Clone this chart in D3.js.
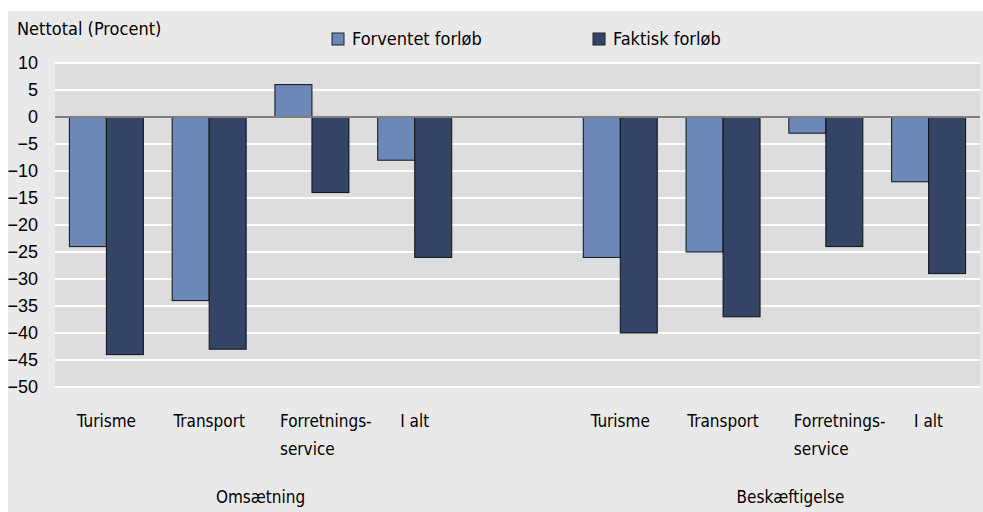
<!DOCTYPE html>
<html>
<head>
<meta charset="utf-8">
<script src="https://cdn.jsdelivr.net/npm/d3@7"></script>
<style>
  body { margin: 0; background: #ffffff; }
  svg text { font-family: "Liberation Sans Narrow", "DejaVu Sans Condensed", sans-serif; fill: #000; }
</style>
</head>
<body>
<div id="chart"></div>
<script>
// categories (slot "" is the empty gap between the two groups)
var categories = ["Turisme", "Transport", "Forretnings-\nservice", "I alt", "", "Turisme", "Transport", "Forretnings-\nservice", "I alt"];
var groups = ["Omsætning", "Beskæftigelse"];
var seriesNames = ["Forventet forløb", "Faktisk forløb"];
var forventet = [-24, -34, 6, -8, null, -26, -25, -3, -12];
var faktisk = [-44, -43, -14, -26, null, -40, -37, -24, -29];
var yTicks = [10, 5, 0, -5, -10, -15, -20, -25, -30, -35, -40, -45, -50];

var colors = ["#6b88b8", "#334466"];

var width = 983, height = 512;
var margin = { top: 63, right: 3, bottom: 125, left: 55 };
var chartWidth = width - margin.left - margin.right;
var chartHeight = height - margin.top - margin.bottom;

var svg = d3.select("#chart").append("svg")
  .attr("width", width)
  .attr("height", height);

// outer chart background
svg.append("rect")
  .attr("x", 8).attr("y", 11)
  .attr("width", width - 8).attr("height", height - 11)
  .attr("fill", "#e9e9e9");

var chartGroup = svg.append("g")
  .attr("transform", `translate(${margin.left}, ${margin.top})`);

var xScale = d3.scaleBand()
  .domain(d3.range(categories.length))
  .range([0, chartWidth])
  .paddingInner(0)
  .paddingOuter(0);

var xInner = d3.scaleBand()
  .domain([0, 1])
  .range([xScale.bandwidth() * 0.14, xScale.bandwidth() * 0.86]);

var yScale = d3.scaleLinear()
  .domain([-50, 10])
  .range([chartHeight, 0]);

// plot area
chartGroup.append("rect")
  .attr("width", chartWidth)
  .attr("height", chartHeight)
  .attr("fill", "#dddddd");

// gridlines
chartGroup.append("g")
  .selectAll("line")
  .data(yTicks.filter(d => d !== 0))
  .enter()
  .append("line")
  .attr("x1", 0).attr("x2", chartWidth)
  .attr("y1", d => yScale(d)).attr("y2", d => yScale(d))
  .attr("stroke", "#ffffff")
  .attr("stroke-width", 2);

// y axis labels
var yAxis = d3.axisLeft(yScale).tickValues(yTicks).tickSize(0).tickPadding(17);
var yAxisG = chartGroup.append("g").call(yAxis);
yAxisG.select(".domain").remove();
yAxisG.selectAll("text")
  .style("font-size", "18px")
  .style("font-family", "'Liberation Sans Narrow', sans-serif");

// bars
var rows = categories.map((c, i) => ({ i: i, vals: [forventet[i], faktisk[i]] }))
  .filter(d => d.vals[0] !== null);

var barGroups = chartGroup.selectAll(".cat")
  .data(rows)
  .enter()
  .append("g")
  .attr("transform", d => `translate(${xScale(d.i)},0)`);

barGroups.selectAll("rect")
  .data(d => d.vals.map((v, k) => ({ v: v, k: k })))
  .enter()
  .append("rect")
  .attr("x", d => xInner(d.k))
  .attr("y", d => yScale(Math.max(0, d.v)))
  .attr("width", xInner.bandwidth())
  .attr("height", d => Math.abs(yScale(d.v) - yScale(0)))
  .attr("fill", d => colors[d.k])
  .attr("stroke", "#111111")
  .attr("stroke-width", 1);

// zero line
chartGroup.append("line")
  .attr("x1", 0).attr("x2", chartWidth)
  .attr("y1", yScale(0)).attr("y2", yScale(0))
  .attr("stroke", "#7f7f7f")
  .attr("stroke-width", 2);

// category labels
var labelG = chartGroup.append("g");
categories.forEach(function(c, i) {
  if (!c) return;
  var cx = xScale(i) + xScale.bandwidth() / 2;
  var lines = c.split("\n");
  var t = labelG.append("text")
    .attr("y", chartHeight + 40)
    .style("font-size", "17px");
  if (lines.length > 1) {
    t.attr("text-anchor", "start");
    lines.forEach(function(l, j) {
      t.append("tspan")
        .attr("x", cx - 32)
        .attr("dy", j === 0 ? 0 : 28)
        .text(l);
    });
  } else {
    t.attr("text-anchor", "middle").attr("x", cx).text(c);
  }
});

// group labels
groups.forEach(function(g, gi) {
  var start = gi * 5, end = gi * 5 + 3;
  var cx = (xScale(start) + xScale(end) + xScale.bandwidth()) / 2;
  labelG.append("text")
    .attr("x", cx + gi * 16)
    .attr("y", chartHeight + 116)
    .attr("text-anchor", "middle")
    .style("font-size", "17px")
    .text(g);
});

// y title
svg.append("text")
  .attr("x", 17)
  .attr("y", 35)
  .style("font-size", "18px")
  .text("Nettotal (Procent)");

// legend
var legendX = [332, 593];
seriesNames.forEach(function(name, k) {
  var lg = svg.append("g").attr("transform", `translate(${legendX[k]}, 33)`);
  lg.append("rect")
    .attr("width", 12).attr("height", 12)
    .attr("fill", colors[k])
    .attr("stroke", "#222222")
    .attr("stroke-width", 1);
  lg.append("text")
    .attr("x", 20)
    .attr("y", 12)
    .style("font-size", "18px")
    .text(name);
});
</script>
</body>
</html>
